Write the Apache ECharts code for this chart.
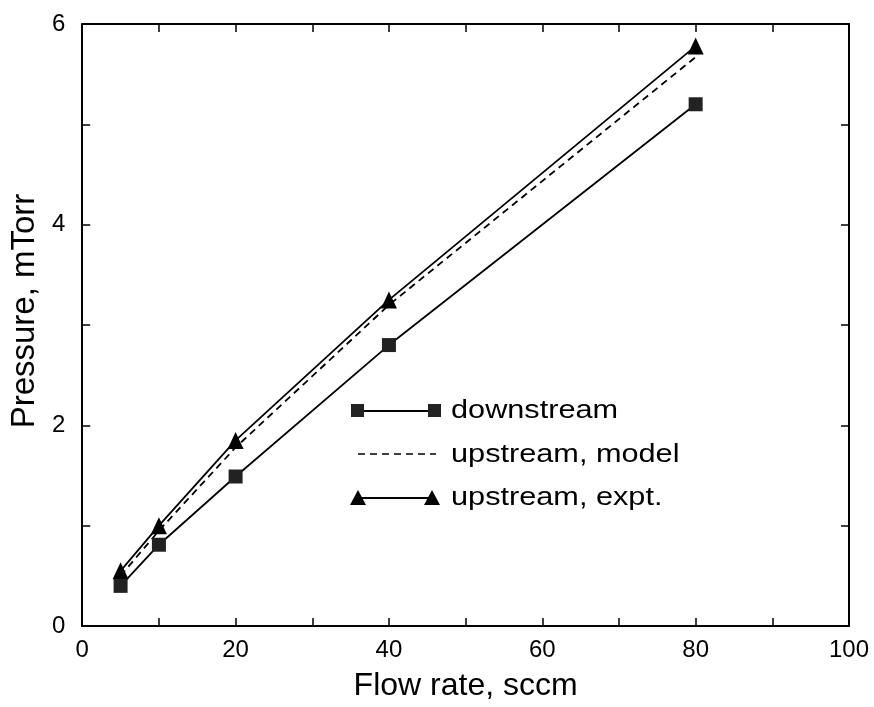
<!DOCTYPE html>
<html>
<head>
<meta charset="utf-8">
<script src="https://cdn.jsdelivr.net/npm/echarts@6/dist/echarts.min.js"></script>
<style>html,body{margin:0;padding:0;background:#fff}#c{width:874px;height:707px}</style>
</head>
<body>
<div id="c"></div>
<script>
const flowRates = [5, 10, 20, 40, 80];
const downstream = [0.40, 0.81, 1.49, 2.80, 5.20];
const upstreamModel = [0.50, 0.95, 1.78, 3.20, 5.67];
const upstreamExpt = [0.55, 1.00, 1.85, 3.25, 5.78];
const legendLabels = ['downstream', 'upstream, model', 'upstream, expt.'];
const xAxisTitle = 'Flow rate, sccm';
const yAxisTitle = 'Pressure, mTorr';

const FONT = '"Liberation Sans", Arial, sans-serif';
const pair = (xs, ys) => xs.map((x, i) => [x, ys[i]]);

const chart = echarts.init(document.getElementById('c'), null, {renderer: 'canvas'});
const axisLine = {show: true, onZero: false, lineStyle: {color: '#000', width: 2}};
const axisTick = {show: true, inside: true, length: 8, lineStyle: {color: '#000', width: 1.5}};
const legendText = (x, y, text) => ({
  type: 'text', x: x, y: y, scaleX: 1.18,
  style: {x: 0, y: 0, text: text, fontFamily: FONT, fontSize: 26, fill: '#000', verticalAlign: 'middle'}
});
chart.setOption({
  backgroundColor: '#fff',
  animation: false,
  grid: {left: 80, right: 25, top: 24, bottom: 80},
  xAxis: [
    {
      type: 'value', min: 0, max: 100, interval: 10, position: 'bottom',
      axisLine: axisLine, axisTick: axisTick, splitLine: {show: false},
      name: xAxisTitle, nameLocation: 'middle', nameGap: 44,
      nameTextStyle: {fontFamily: FONT, fontSize: 32, color: '#000'},
      axisLabel: {fontFamily: FONT, fontSize: 24, color: '#000', margin: 12,
        formatter: v => (v % 20 === 0 ? String(v) : '')}
    },
    {
      type: 'value', min: 0, max: 100, interval: 10, position: 'top',
      axisLine: axisLine, axisTick: axisTick, splitLine: {show: false},
      axisLabel: {show: false}
    }
  ],
  yAxis: [
    {
      type: 'value', min: 0, max: 6, interval: 1, position: 'left',
      axisLine: axisLine, axisTick: axisTick, splitLine: {show: false},
      name: yAxisTitle, nameLocation: 'middle', nameGap: 37,
      nameTextStyle: {fontFamily: FONT, fontSize: 33, color: '#000', padding: [0, 0, 0, 28]},
      axisLabel: {fontFamily: FONT, fontSize: 24, color: '#000', margin: 17,
        formatter: v => (v % 2 === 0 ? String(v) : '')}
    },
    {
      type: 'value', min: 0, max: 6, interval: 1, position: 'right',
      axisLine: axisLine, axisTick: axisTick, splitLine: {show: false},
      axisLabel: {show: false}
    }
  ],
  series: [
    {
      name: legendLabels[1], type: 'line', data: pair(flowRates, upstreamModel),
      showSymbol: false, symbol: 'none',
      lineStyle: {color: '#000', width: 1.8, type: [7, 5]}, z: 2
    },
    {
      name: legendLabels[2], type: 'line', data: pair(flowRates, upstreamExpt),
      symbol: 'triangle', symbolSize: [16, 17],
      itemStyle: {color: '#000'}, lineStyle: {color: '#000', width: 1.8}, z: 3
    },
    {
      name: legendLabels[0], type: 'line', data: pair(flowRates, downstream),
      symbol: 'rect', symbolSize: 14,
      itemStyle: {color: '#222'}, lineStyle: {color: '#000', width: 1.8}, z: 4
    }
  ],
  graphic: [
    // legend: downstream
    {type: 'line', shape: {x1: 357, y1: 411, x2: 433, y2: 411}, style: {stroke: '#000', lineWidth: 1.8}},
    {type: 'rect', shape: {x: 351, y: 404, width: 13, height: 13}, style: {fill: '#222'}},
    {type: 'rect', shape: {x: 428, y: 404, width: 13, height: 13}, style: {fill: '#222'}},
    legendText(451, 411, legendLabels[0]),
    // legend: model
    {type: 'line', shape: {x1: 358, y1: 454, x2: 436, y2: 454}, style: {stroke: '#000', lineWidth: 1.6, lineDash: [7, 5]}},
    legendText(451, 455, legendLabels[1]),
    // legend: expt
    {type: 'line', shape: {x1: 358, y1: 498, x2: 432, y2: 498}, style: {stroke: '#000', lineWidth: 1.8}},
    {type: 'polygon', shape: {points: [[358, 490], [350, 505], [366, 505]]}, style: {fill: '#000'}},
    {type: 'polygon', shape: {points: [[432, 490], [424, 505], [440, 505]]}, style: {fill: '#000'}},
    legendText(451, 498, legendLabels[2])
  ]
});
</script>
</body>
</html>
